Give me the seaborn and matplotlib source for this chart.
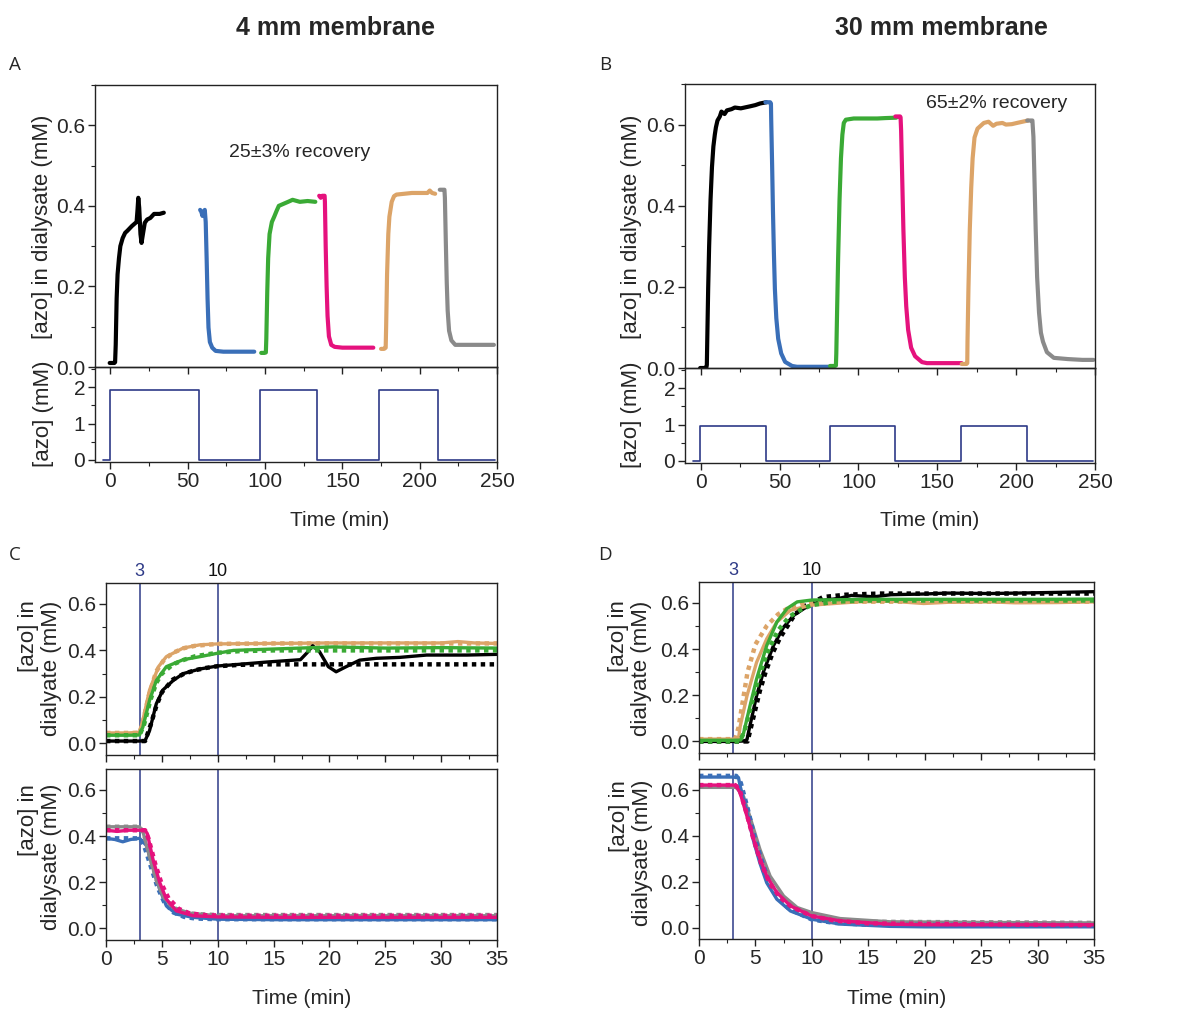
import numpy as np
import matplotlib
matplotlib.use("Agg")
import matplotlib.pyplot as plt
from matplotlib.ticker import MultipleLocator
import seaborn as sns

sns.set_theme(style="ticks")
plt.rcParams['font.family'] = ['Liberation Sans', 'DejaVu Sans']

# ---------------- data: 4 mm membrane, one cycle (min, mM) ----------------
T4_BLACK = [0, 1, 2, 3, 3.5, 3.9, 4.5, 5.1, 6.0, 6.9, 8.4, 10, 11.4, 14.4, 17.4, 18.0, 18.5, 19.1,
            19.9, 20.6, 21.5, 22.7, 24.2, 26.3, 28.7, 32.3, 35]
Y4_BLACK = [0.01, 0.01, 0.01, 0.01, 0.012, 0.055, 0.17, 0.23, 0.27, 0.30, 0.32, 0.333, 0.338, 0.35,
            0.36, 0.39, 0.42, 0.395, 0.33, 0.308, 0.33, 0.358, 0.366, 0.37, 0.38, 0.38, 0.383]
T4_BLACK_FIT = [0, 3.5, 4.0, 4.5, 5, 6, 7, 8, 9, 10, 12, 14, 35]
Y4_BLACK_FIT = [0.01, 0.01, 0.08, 0.16, 0.22, 0.275, 0.30, 0.315, 0.325, 0.332, 0.338, 0.34, 0.34]
T4_GREEN = [0, 1, 2, 3, 3.3, 3.9, 4.5, 5.4, 6.9, 8.4, 10, 11.4, 14.4, 17.4, 20.3, 25, 30, 35]
Y4_GREEN = [0.035, 0.035, 0.035, 0.036, 0.07, 0.185, 0.27, 0.33, 0.36, 0.373, 0.388, 0.40, 0.405,
            0.41, 0.415, 0.41, 0.412, 0.41]
T4_GREEN_FIT = [0, 3, 3.4, 4, 4.5, 5, 6, 7, 8, 10, 12, 15, 20, 35]
Y4_GREEN_FIT = [0.035, 0.035, 0.08, 0.19, 0.26, 0.30, 0.34, 0.36, 0.375, 0.39, 0.397, 0.40, 0.40, 0.40]
T4_TAN = [0, 1, 2, 3, 3.3, 3.9, 4.7, 5.4, 6.9, 8.4, 10, 15, 20, 25, 30, 31.5, 33, 35]
Y4_TAN = [0.045, 0.045, 0.045, 0.048, 0.10, 0.23, 0.33, 0.373, 0.41, 0.424, 0.428, 0.43, 0.432,
          0.432, 0.432, 0.438, 0.432, 0.43]
T4_TAN_FIT = [0, 3, 3.3, 3.8, 4.5, 5.2, 6, 7, 8, 10, 15, 35]
Y4_TAN_FIT = [0.045, 0.045, 0.09, 0.20, 0.31, 0.36, 0.39, 0.41, 0.42, 0.428, 0.43, 0.43]

T4_BLUE = [0, 0.8, 1.5, 2.2, 3, 3.6, 4.2, 4.8, 5.4, 6.3, 7.8, 10, 15, 20, 25, 30, 35]
Y4_BLUE = [0.39, 0.385, 0.375, 0.385, 0.39, 0.36, 0.27, 0.17, 0.098, 0.062, 0.048, 0.04, 0.038,
           0.038, 0.038, 0.038, 0.038]
T4_BLUE_FIT = [0, 3, 3.4, 4, 4.6, 5.2, 6, 7, 8, 10, 35]
Y4_BLUE_FIT = [0.39, 0.39, 0.36, 0.27, 0.18, 0.115, 0.07, 0.05, 0.043, 0.04, 0.04]
T4_MAG = [0, 1, 2, 3, 3.5, 3.7, 4.2, 4.8, 5.4, 6.3, 7.8, 10, 15, 20, 25, 30, 35]
Y4_MAG = [0.425, 0.42, 0.425, 0.425, 0.425, 0.41, 0.30, 0.20, 0.127, 0.076, 0.055, 0.05, 0.048,
          0.048, 0.048, 0.048, 0.048]
T4_MAG_FIT = [0, 3.5, 3.8, 4.4, 5, 5.6, 6.5, 7.5, 9, 12, 35]
Y4_MAG_FIT = [0.425, 0.425, 0.39, 0.28, 0.19, 0.13, 0.085, 0.065, 0.057, 0.055, 0.055]
T4_GREY = [0, 1, 2, 3, 3.3, 3.9, 4.5, 5.1, 6, 7.5, 10, 15, 20, 25, 30, 35]
Y4_GREY = [0.44, 0.44, 0.44, 0.44, 0.42, 0.31, 0.21, 0.14, 0.09, 0.066, 0.055, 0.055, 0.055,
           0.055, 0.055, 0.055]
T4_GREY_FIT = [0, 3, 3.4, 4, 4.6, 5.2, 6, 7, 8, 10, 35]
Y4_GREY_FIT = [0.44, 0.44, 0.41, 0.30, 0.20, 0.135, 0.09, 0.07, 0.062, 0.058, 0.058]

# start time of each segment in the full 4 mm run (black, blue, green, magenta, tan, grey)
START4 = [-0.5, 58, 97.5, 135, 175, 213]
STIM4_T = [-5, 0, 57.2, 97, 133.7, 174, 211.8, 249]
STIM4_C = [0, 1.93, 0, 1.93, 0, 1.93, 0, 0]

# ---------------- data: 30 mm membrane, one cycle ----------------
T30_BLACK = [0, 1, 2, 3, 4, 4.25, 4.5, 5.1, 5.7, 6.6, 7.5, 8.4, 9.3, 10, 11, 12.5, 13.5, 15.5, 17,
             19.9, 22, 25.8, 31.7, 35, 38, 42]
Y30_BLACK = [0, 0, 0, 0, 0.002, 0.008, 0.065, 0.197, 0.30, 0.415, 0.495, 0.546, 0.575, 0.593,
             0.61, 0.62, 0.632, 0.626, 0.635, 0.638, 0.642, 0.64, 0.645, 0.648, 0.652, 0.655]
T30_BLACK_FIT = [0, 4.3, 4.8, 5.4, 5.9, 6.5, 7.2, 8.5, 9.3, 10, 11, 13, 16, 35, 42]
Y30_BLACK_FIT = [0, 0, 0.10, 0.22, 0.30, 0.38, 0.45, 0.55, 0.585, 0.60, 0.625, 0.635, 0.64, 0.64, 0.64]
T30_GREEN = [0, 1, 2, 3, 3.7, 3.95, 4.5, 5.1, 6, 6.9, 7.8, 8.7, 10, 15, 20, 25, 30, 35, 42]
Y30_GREEN = [0.005, 0.005, 0.005, 0.005, 0.006, 0.036, 0.15, 0.27, 0.415, 0.517, 0.575, 0.604,
             0.612, 0.615, 0.615, 0.615, 0.615, 0.616, 0.617]
T30_GREEN_FIT = [0, 3.6, 4.0, 4.6, 5.2, 6, 7, 8, 9, 10, 12, 15, 35, 42]
Y30_GREEN_FIT = [0, 0, 0.04, 0.15, 0.26, 0.38, 0.48, 0.54, 0.57, 0.59, 0.605, 0.61, 0.61, 0.61]
T30_TAN = [0, 1, 2, 3, 3.5, 3.65, 4.25, 5.1, 6, 6.9, 8.1, 10, 14, 17, 19.9, 22, 25.8, 28, 31.7, 35, 42]
Y30_TAN = [0.01, 0.01, 0.01, 0.01, 0.012, 0.066, 0.197, 0.342, 0.444, 0.517, 0.568, 0.59, 0.604,
           0.607, 0.597, 0.602, 0.604, 0.60, 0.601, 0.604, 0.61]
T30_TAN_FIT = [0, 3.2, 3.5, 3.8, 4.3, 5, 6, 7, 8, 9, 10, 13, 35, 42]
Y30_TAN_FIT = [0.01, 0.01, 0.06, 0.15, 0.30, 0.42, 0.50, 0.55, 0.58, 0.595, 0.60, 0.605, 0.605, 0.605]

T30_BLUE = [0, 1, 2, 3, 3.5, 3.65, 4.25, 4.8, 5.4, 6, 6.9, 8.1, 10, 12.5, 16.9, 20, 25, 30, 35, 42]
Y30_BLUE = [0.655, 0.655, 0.655, 0.655, 0.652, 0.615, 0.50, 0.383, 0.28, 0.195, 0.123, 0.072,
            0.036, 0.015, 0.005, 0.003, 0.003, 0.003, 0.003, 0.003]
T30_BLUE_FIT = [0, 3.3, 3.7, 4.3, 4.9, 5.5, 6.2, 7, 8, 10, 12, 15, 35, 42]
Y30_BLUE_FIT = [0.66, 0.66, 0.63, 0.52, 0.40, 0.30, 0.20, 0.13, 0.08, 0.035, 0.02, 0.012, 0.01, 0.01]
T30_MAG = [0, 1, 2, 3, 3.3, 3.65, 4.25, 5.1, 6, 6.9, 8.1, 10, 12.5, 16.9, 20, 25, 30, 35, 42]
Y30_MAG = [0.62, 0.62, 0.62, 0.62, 0.618, 0.585, 0.484, 0.34, 0.224, 0.152, 0.094, 0.05, 0.029,
           0.0145, 0.012, 0.012, 0.012, 0.012, 0.012]
T30_MAG_FIT = [0, 3.2, 3.6, 4.2, 4.8, 5.5, 6.3, 7.2, 8.2, 10, 12, 15, 35, 42]
Y30_MAG_FIT = [0.62, 0.62, 0.60, 0.50, 0.39, 0.28, 0.19, 0.13, 0.09, 0.05, 0.03, 0.018, 0.01, 0.01]
T30_GREY = [0, 1, 2, 3, 3.3, 3.95, 4.5, 5.4, 6.3, 7.5, 8.7, 10, 12.5, 16.9, 25.8, 35, 42]
Y30_GREY = [0.61, 0.61, 0.61, 0.61, 0.61, 0.57, 0.484, 0.34, 0.224, 0.137, 0.087, 0.065, 0.039,
            0.025, 0.022, 0.02, 0.02]
T30_GREY_FIT = [0, 3.3, 3.8, 4.4, 5, 5.7, 6.5, 7.5, 8.5, 10, 12, 15, 35, 42]
Y30_GREY_FIT = [0.615, 0.615, 0.58, 0.48, 0.36, 0.25, 0.17, 0.11, 0.075, 0.05, 0.035, 0.025, 0.02, 0.02]

START30 = [-0.4, 41, 82, 123.4, 165.5, 207]
STIM30_T = [-5, -0.4, 41.3, 81.7, 123, 165, 207, 249]
STIM30_C = [0, 0.97, 0, 0.97, 0, 0.97, 0, 0]

MARK_T = [3, 10]
MARK_LABELS = ["3", "10"]

# ---------------- styling ----------------
C_BLACK = "#000000"
C_BLUE = "#3a6fb8"
C_GREEN = "#3aaa35"
C_MAG = "#e5127d"
C_TAN = "#dca468"
C_GREY = "#8a8a8a"
C_NAVY = "#2e3a87"

TICK_FS = 15
W, H = 1181, 1011
fig = plt.figure(figsize=(W / 100, H / 100), dpi=100)


def rect(x0, y0, x1, y1):
    return [x0 / W, 1 - y1 / H, (x1 - x0) / W, (y1 - y0) / H]


def ftext(x, y, s, **kw):
    fig.text(x / W, 1 - y / H, s, **kw)


def style_ax(ax, xmaj, xmin, ymaj, ymin, xlabels=True):
    ax.patch.set_alpha(0)
    for sp in ax.spines.values():
        sp.set_visible(True)
        sp.set_color("#222222")
        sp.set_linewidth(1.0)
    ax.xaxis.set_major_locator(MultipleLocator(xmaj))
    ax.xaxis.set_minor_locator(MultipleLocator(xmin))
    ax.yaxis.set_major_locator(MultipleLocator(ymaj))
    ax.yaxis.set_minor_locator(MultipleLocator(ymin))
    ax.tick_params(which="both", direction="out", top=False, right=False, color="#222222",
                   labelsize=TICK_FS, pad=2)
    ax.tick_params(which="major", length=5, width=1.0)
    ax.tick_params(which="minor", length=3, width=0.8)
    if not xlabels:
        ax.tick_params(axis="x", labelbottom=False)
    ax.set_xlabel("")
    ax.set_ylabel("")


def line(ax, t, y, color, offset=0.0, lw=2.6, fit=False, **kw):
    x = np.asarray(t, dtype=float) + offset
    if fit:
        sns.lineplot(x=x, y=y, ax=ax, color=color, lw=3.2, linestyle=(0, (1, 1)),
                     legend=False, sort=False, estimator=None, **kw)
    else:
        sns.lineplot(x=x, y=y, ax=ax, color=color, lw=lw, legend=False, sort=False,
                     estimator=None, solid_capstyle="round", **kw)


# ---------------- panel A ----------------
axA = fig.add_axes(rect(95, 85, 497, 367))
axA2 = fig.add_axes(rect(95, 367, 497, 462))
segs4 = [(T4_BLACK, Y4_BLACK, C_BLACK), (T4_BLUE, Y4_BLUE, C_BLUE), (T4_GREEN, Y4_GREEN, C_GREEN),
         (T4_MAG, Y4_MAG, C_MAG), (T4_TAN, Y4_TAN, C_TAN), (T4_GREY, Y4_GREY, C_GREY)]
for (t, y, c), s in zip(segs4, START4):
    line(axA, t, y, c, offset=s, lw=3.0)
axA.set_xlim(-10, 250)
axA.set_ylim(0, 0.7)
style_ax(axA, 50, 25, 0.2, 0.1, xlabels=False)
axA.set_yticks([0, 0.2, 0.4, 0.6])
axA.set_yticklabels(["0.0", "0.2", "0.4", "0.6"])
axA.text(0.51, 0.76, "25±3% recovery", transform=axA.transAxes, ha="center", va="center", fontsize=14)

sns.lineplot(x=STIM4_T, y=STIM4_C, ax=axA2, color=C_NAVY, lw=1.2, drawstyle="steps-post",
             legend=False, sort=False, estimator=None)
axA2.set_xlim(-10, 250)
axA2.set_ylim(-0.055, 2.55)
style_ax(axA2, 50, 25, 1, 0.5)

# ---------------- panel B ----------------
axB = fig.add_axes(rect(685, 84, 1095, 368))
axB2 = fig.add_axes(rect(685, 368, 1095, 463))
segs30 = [(T30_BLACK, Y30_BLACK, C_BLACK), (T30_BLUE, Y30_BLUE, C_BLUE), (T30_GREEN, Y30_GREEN, C_GREEN),
          (T30_MAG, Y30_MAG, C_MAG), (T30_TAN, Y30_TAN, C_TAN), (T30_GREY, Y30_GREY, C_GREY)]
for (t, y, c), s in zip(segs30, START30):
    line(axB, t, y, c, offset=s, lw=3.0)
axB.set_xlim(-10, 250)
axB.set_ylim(0, 0.7)
style_ax(axB, 50, 25, 0.2, 0.1, xlabels=False)
axB.set_yticks([0, 0.2, 0.4, 0.6])
axB.set_yticklabels(["0.0", "0.2", "0.4", "0.6"])
axB.text(0.76, 0.93, "65±2% recovery", transform=axB.transAxes, ha="center", va="center", fontsize=14)

sns.lineplot(x=STIM30_T, y=STIM30_C, ax=axB2, color=C_NAVY, lw=1.2, drawstyle="steps-post",
             legend=False, sort=False, estimator=None)
axB2.set_xlim(-10, 250)
axB2.set_ylim(-0.055, 2.55)
style_ax(axB2, 50, 25, 1, 0.5)

# ---------------- panels C and D ----------------
def zoom_panel(ax_top, ax_bot, rise, decay):
    for ax in (ax_top, ax_bot):
        for mt in MARK_T:
            ax.axvline(mt, color=C_NAVY, lw=1.1, zorder=0)
    for (t, y, c, tf, yf) in rise:
        line(ax_top, tf, yf, c, fit=True)
        line(ax_top, t, y, c, lw=2.4)
    for (t, y, c, tf, yf) in decay:
        line(ax_bot, tf, yf, c, fit=True)
        line(ax_bot, t, y, c, lw=2.4)
    for ax, lab in ((ax_top, False), (ax_bot, True)):
        ax.set_xlim(0, 35)
        ax.set_ylim(-0.05, 0.69)
        style_ax(ax, 5, 2.5, 0.2, 0.1, xlabels=lab)
        ax.set_yticks([0, 0.2, 0.4, 0.6])
        ax.set_yticklabels(["0.0", "0.2", "0.4", "0.6"])
    tr = ax_top.get_xaxis_transform()
    ax_top.text(MARK_T[0], 1.02, MARK_LABELS[0], transform=tr, ha="center", va="bottom",
                fontsize=13, color=C_NAVY)
    ax_top.text(MARK_T[1], 1.02, MARK_LABELS[1], transform=tr, ha="center", va="bottom",
                fontsize=13, color="#111111")


axC = fig.add_axes(rect(106, 583, 497, 755))
axC2 = fig.add_axes(rect(106, 769, 497, 940))
zoom_panel(axC, axC2,
           [(T4_TAN, Y4_TAN, C_TAN, T4_TAN_FIT, Y4_TAN_FIT),
            (T4_BLACK, Y4_BLACK, C_BLACK, T4_BLACK_FIT, Y4_BLACK_FIT),
            (T4_GREEN, Y4_GREEN, C_GREEN, T4_GREEN_FIT, Y4_GREEN_FIT)],
           [(T4_BLUE, Y4_BLUE, C_BLUE, T4_BLUE_FIT, Y4_BLUE_FIT),
            (T4_GREY, Y4_GREY, C_GREY, T4_GREY_FIT, Y4_GREY_FIT),
            (T4_MAG, Y4_MAG, C_MAG, T4_MAG_FIT, Y4_MAG_FIT)])

axD = fig.add_axes(rect(699, 582, 1094, 753))
axD2 = fig.add_axes(rect(699, 769, 1094, 939))
zoom_panel(axD, axD2,
           [(T30_BLACK, Y30_BLACK, C_BLACK, T30_BLACK_FIT, Y30_BLACK_FIT),
            (T30_TAN, Y30_TAN, C_TAN, T30_TAN_FIT, Y30_TAN_FIT),
            (T30_GREEN, Y30_GREEN, C_GREEN, T30_GREEN_FIT, Y30_GREEN_FIT)],
           [(T30_GREY, Y30_GREY, C_GREY, T30_GREY_FIT, Y30_GREY_FIT),
            (T30_BLUE, Y30_BLUE, C_BLUE, T30_BLUE_FIT, Y30_BLUE_FIT),
            (T30_MAG, Y30_MAG, C_MAG, T30_MAG_FIT, Y30_MAG_FIT)])

# ---------------- text ----------------
ftext(335, 28, "4 mm membrane", ha="center", va="center", fontsize=18, fontweight="bold")
ftext(941, 28, "30 mm membrane", ha="center", va="center", fontsize=18, fontweight="bold")
for x, y, s in [(15, 65, "A"), (605, 65, "B"), (15, 555, "C"), (605, 555, "D")]:
    ftext(x, y, s, ha="center", va="center", fontsize=13.5, family=["Open Sans", "DejaVu Sans"])

ylab_kw = dict(rotation=90, ha="center", va="center", fontsize=16)
ftext(43, 227, "[azo] in dialysate (mM)", **ylab_kw)
ftext(43, 414, "[azo] (mM)", **ylab_kw)
ftext(631, 227, "[azo] in dialysate (mM)", **ylab_kw)
ftext(631, 415, "[azo] (mM)", **ylab_kw)
ftext(40, 668, "[azo] in\ndialyate (mM)", multialignment="right", linespacing=1.1, **ylab_kw)
ftext(40, 857, "[azo] in\ndialysate (mM)", multialignment="right", linespacing=1.1, **ylab_kw)
ftext(630, 668, "[azo] in\ndialyate (mM)", multialignment="right", linespacing=1.1, **ylab_kw)
ftext(631, 853, "[azo] in\ndialysate (mM)", multialignment="right", linespacing=1.1, **ylab_kw)

xlab_kw = dict(ha="center", va="center", fontsize=15)
ftext(340, 520, "Time (min)", **xlab_kw)
ftext(930, 520, "Time (min)", **xlab_kw)
ftext(302, 999, "Time (min)", **xlab_kw)
ftext(897, 998, "Time (min)", **xlab_kw)

fig.savefig("out.png", dpi=100, facecolor="white")
